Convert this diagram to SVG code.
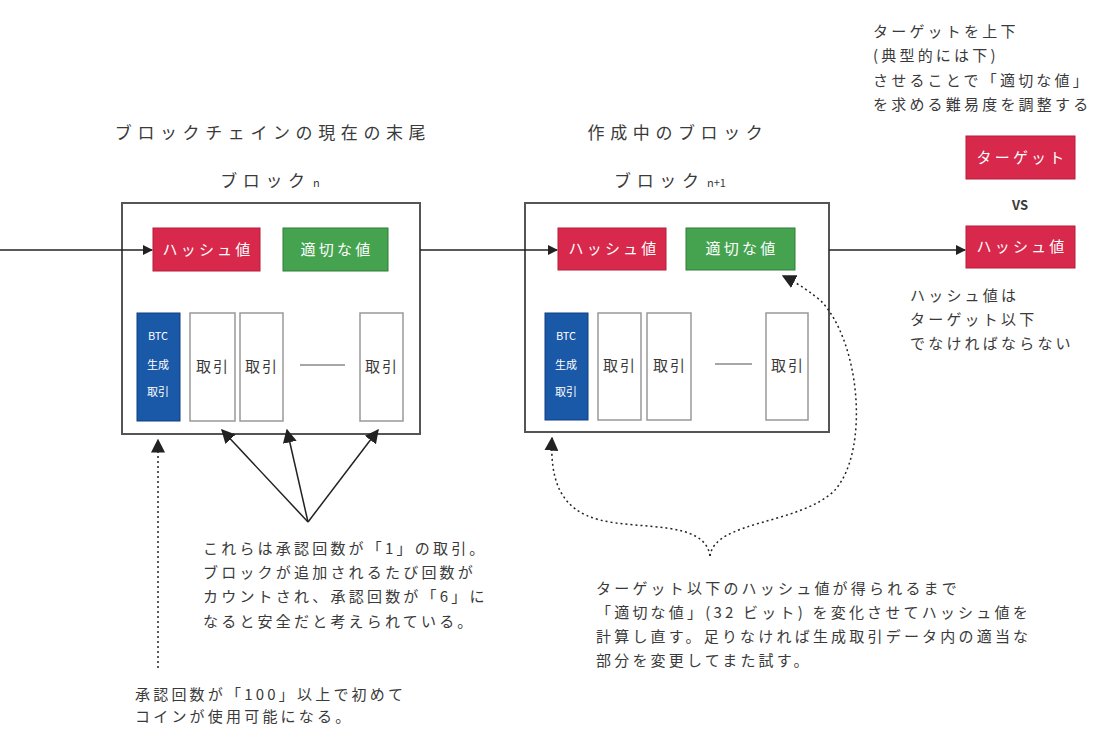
<svg xmlns="http://www.w3.org/2000/svg" width="1093" height="729" viewBox="0 0 1093 729">
<defs>
<marker id="ah" viewBox="0 0 10 10" refX="9" refY="5" markerWidth="12" markerHeight="10" markerUnits="userSpaceOnUse" orient="auto"><path d="M0,0 L10,5 L0,10 z" fill="#222"/></marker>
<marker id="ahb" viewBox="0 0 10 10" refX="9" refY="5" markerWidth="14" markerHeight="14" markerUnits="userSpaceOnUse" orient="auto"><path d="M0,0 L10,5 L0,10 z" fill="#222"/></marker>
</defs>
<style>
text{font-family:"Noto Sans CJK JP","Noto Sans",sans-serif;}
.t{font-size:15px;fill:#3a3a3a;letter-spacing:3.2px;}
.h{font-size:17px;fill:#3a3a3a;letter-spacing:5.6px;}
.w{font-size:15px;fill:#fff;letter-spacing:3.2px;}
.s{font-size:11px;fill:#fff;}
.x{font-size:15px;fill:#3a3a3a;letter-spacing:2px;}
.blk{fill:#fff;stroke:#555;stroke-width:2;}
.red{fill:#d8284b;stroke:#b81d3b;stroke-width:1;}
.grn{fill:#45a34f;stroke:#2e7d36;stroke-width:1;}
.blu{fill:#1a59a8;stroke:#0f3f80;stroke-width:1;}
.tx{fill:#fff;stroke:#999;stroke-width:1.5;}
.ln{fill:none;stroke:#222;stroke-width:1.5;}
.dt{fill:none;stroke:#222;stroke-width:1.5;stroke-dasharray:2,3;}
</style>
<rect width="1093" height="729" fill="#fff"/>
<g id="title-n">
<text class="h" x="273" y="139" text-anchor="middle">ブロックチェインの現在の末尾</text>
<text class="h" x="270" y="187" text-anchor="middle">ブロック<tspan font-size="11" letter-spacing="0"> n</tspan></text>
</g>
<g id="title-n1">
<text class="h" x="678" y="139" text-anchor="middle">作成中のブロック</text>
<text class="h" x="670" y="187" text-anchor="middle">ブロック<tspan font-size="11" letter-spacing="0"> n+1</tspan></text>
</g>
<g id="block-n">
<rect class="blk" x="122" y="203" width="298" height="231"/>
<g id="bn-hash"><rect class="red" x="153" y="228" width="107" height="43"/><text class="w" x="208" y="255" text-anchor="middle">ハッシュ値</text></g>
<g id="bn-nonce"><rect class="grn" x="283" y="228" width="105" height="43"/><text class="w" x="337" y="255" text-anchor="middle" letter-spacing="5">適切な値</text></g>
<g id="bn-btc"><rect class="blu" x="137" y="313" width="43" height="108"/><text class="s" x="158" y="340" text-anchor="middle">BTC</text><text class="s" x="158" y="369" text-anchor="middle">生成</text><text class="s" x="158" y="396" text-anchor="middle">取引</text></g>
<g id="bn-tx1"><rect class="tx" x="190" y="313" width="45" height="108"/><text class="x" x="213" y="372" text-anchor="middle">取引</text></g>
<g id="bn-tx2"><rect class="tx" x="240" y="313" width="43" height="108"/><text class="x" x="262" y="372" text-anchor="middle">取引</text></g>
<line x1="300" y1="365" x2="345" y2="365" stroke="#888" stroke-width="1.5"/>
<g id="bn-tx3"><rect class="tx" x="360" y="313" width="43" height="108"/><text class="x" x="382" y="372" text-anchor="middle">取引</text></g>
</g>
<g id="block-n1">
<rect class="blk" x="525" y="203" width="304" height="229"/>
<g id="bn1-hash"><rect class="red" x="558" y="228" width="108" height="42"/><text class="w" x="614" y="254" text-anchor="middle">ハッシュ値</text></g>
<g id="bn1-nonce"><rect class="grn" x="686" y="228" width="109" height="42"/><text class="w" x="742" y="254" text-anchor="middle" letter-spacing="5">適切な値</text></g>
<g id="bn1-btc"><rect class="blu" x="545" y="313" width="43" height="107"/><text class="s" x="566" y="340" text-anchor="middle">BTC</text><text class="s" x="566" y="369" text-anchor="middle">生成</text><text class="s" x="566" y="396" text-anchor="middle">取引</text></g>
<g id="bn1-tx1"><rect class="tx" x="598" y="313" width="43" height="107"/><text class="x" x="620" y="371" text-anchor="middle">取引</text></g>
<g id="bn1-tx2"><rect class="tx" x="647" y="313" width="44" height="107"/><text class="x" x="670" y="371" text-anchor="middle">取引</text></g>
<line x1="715" y1="364" x2="752" y2="364" stroke="#888" stroke-width="1.5"/>
<g id="bn1-tx3"><rect class="tx" x="766" y="313" width="42" height="107"/><text class="x" x="788" y="371" text-anchor="middle">取引</text></g>
</g>
<g id="compare">
<g id="target"><rect class="red" x="966" y="136" width="109" height="43"/><text class="w" x="1022" y="163" text-anchor="middle">ターゲット</text></g>
<text x="1020" y="210" text-anchor="middle" font-size="13" font-weight="bold" fill="#3a3a3a">VS</text>
<g id="hash-r"><rect class="red" x="966" y="226" width="109" height="42"/><text class="w" x="1022" y="252" text-anchor="middle">ハッシュ値</text></g>
</g>
<g id="connectors">
<line class="ln" x1="0" y1="250" x2="152" y2="250" marker-end="url(#ah)"/>
<line class="ln" x1="420" y1="250" x2="557" y2="250" marker-end="url(#ah)"/>
<line class="ln" x1="829" y1="250" x2="965" y2="250" marker-end="url(#ah)"/>
<line class="ln" x1="308" y1="522" x2="222" y2="430" marker-end="url(#ahb)"/>
<line class="ln" x1="308" y1="522" x2="287" y2="430" marker-end="url(#ahb)"/>
<line class="ln" x1="308" y1="522" x2="378" y2="430" marker-end="url(#ahb)"/>
<line class="dt" x1="158" y1="668" x2="158" y2="440" marker-end="url(#ahb)"/>
<path class="dt" d="M710,556 C705,520 640,530 600,520 C560,510 550,480 552,438" marker-end="url(#ahb)"/>
<path class="dt" d="M710,556 C715,520 800,525 835,490 C870,450 860,340 820,300 C805,288 795,282 783,276" marker-end="url(#ahb)"/>
</g>
<g id="note-top">
<text class="t" x="873" y="37">ターゲットを上下</text>
<text class="t" x="873" y="61">(典型的には下)</text>
<text class="t" x="873" y="86">させることで「適切な値」</text>
<text class="t" x="873" y="110">を求める難易度を調整する</text>
</g>
<g id="note-hash">
<text class="t" x="910" y="301">ハッシュ値は</text>
<text class="t" x="910" y="325">ターゲット以下</text>
<text class="t" x="910" y="349">でなければならない</text>
</g>
<g id="note-confirm">
<text class="t" x="203" y="554">これらは承認回数が「1」の取引。</text>
<text class="t" x="203" y="578">ブロックが追加されるたび回数が</text>
<text class="t" x="203" y="602">カウントされ、承認回数が「6」に</text>
<text class="t" x="203" y="627">なると安全だと考えられている。</text>
</g>
<g id="note-nonce">
<text class="t" x="596" y="594">ターゲット以下のハッシュ値が得られるまで</text>
<text class="t" x="596" y="618">「適切な値」(32 ビット) を変化させてハッシュ値を</text>
<text class="t" x="596" y="642">計算し直す。足りなければ生成取引データ内の適当な</text>
<text class="t" x="596" y="666">部分を変更してまた試す。</text>
</g>
<g id="note-100">
<text class="t" x="135" y="700">承認回数が「100」以上で初めて</text>
<text class="t" x="135" y="722">コインが使用可能になる。</text>
</g>
</svg>
